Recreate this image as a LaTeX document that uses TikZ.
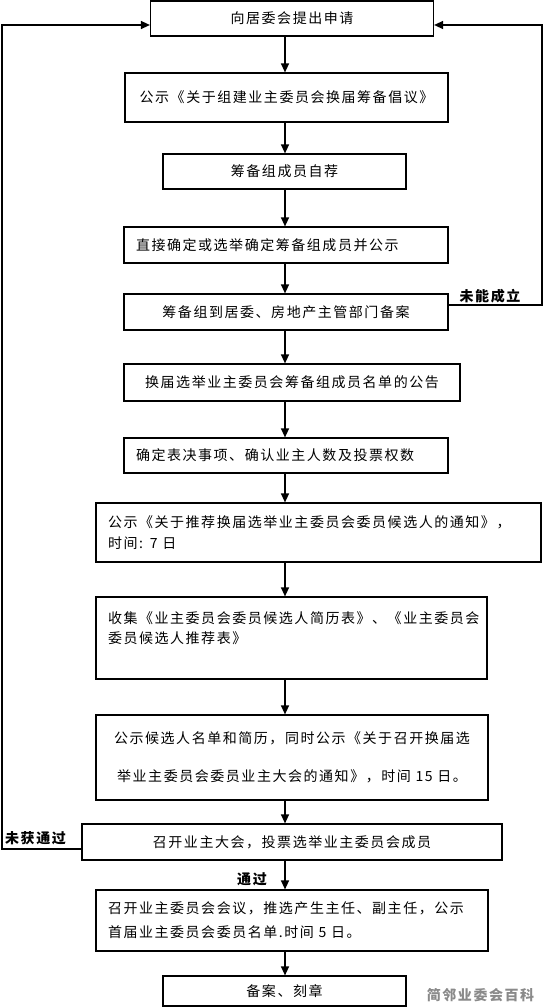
\documentclass[tikz,border=0pt]{standalone}
\usepackage{fontspec}
\usepackage{xcolor}
\usepackage{tikz}
\usetikzlibrary{arrows.meta,positioning,calc}
\newfontfamily\cjk[LetterSpace=11]{Noto Sans CJK SC}
\definecolor{MarkGray}{HTML}{8A8A8A}

\begin{document}
\begin{tikzpicture}[
    x=1pt, y=-1pt,
    font=\cjk\fontsize{14}{20}\selectfont,
    box/.style={rectangle, draw=black, line width=1.2pt, align=center, inner sep=0pt},
    lbox/.style={box, align=left, inner xsep=12pt},
    arrow/.style={-{Triangle[length=9pt,width=8pt]}, line width=1.3pt},
    lab/.style={font=\cjk\bfseries\fontsize{14}{16}\selectfont}
]
\useasboundingbox (0,0) rectangle (543,1008);

\node[box, minimum width=283pt, minimum height=35pt] (apply) at (292,18.5) {向居委会提出申请};
\node[box, minimum width=323pt, minimum height=49pt] (propose) at (286.5,97.5) {公示《关于组建业主委员会换届筹备倡议》};
\node[box, minimum width=243pt, minimum height=35pt] (selfrec) at (284.5,171.5) {筹备组成员自荐};
\node[lbox, text width=300pt, minimum height=36pt] (confirm) at (286,245) {直接确定或选举确定筹备组成员并公示};
\node[box, minimum width=324pt, minimum height=36pt] (record) at (286,312) {筹备组到居委、房地产主管部门备案};
\node[box, minimum width=336pt, minimum height=37pt] (listing) at (292,382.5) {换届选举业主委员会筹备组成员名单的公告};
\node[lbox, text width=300pt, minimum height=35pt] (matters) at (286,455.5) {确定表决事项、确认业主人数及投票权数};
\node[lbox, text width=421pt, minimum height=59pt] (notice) at (318.5,532.5) {公示《关于推荐换届选举业主委员会委员候选人的通知》，\\[1pt]时间: 7 日};
\node[lbox, text width=367pt, minimum height=82pt] (collect) at (291.5,638) {收集《业主委员会委员候选人简历表》、《业主委员会\\委员候选人推荐表》\\ \mbox{}};
\node[box, minimum width=392pt, minimum height=85pt] (publish) at (292,757.5) {公示候选人名单和简历，同时公示《关于召开换届选\\[18pt]举业主委员会委员业主大会的通知》，时间 15 日。};
\node[box, minimum width=420pt, minimum height=36pt] (assembly) at (292,842) {召开业主大会，投票选举业主委员会成员};
\node[lbox, text width=368pt, minimum height=61pt] (meeting) at (292,920.5) {召开业主委员会会议，推选产生主任、副主任，公示\\[4pt]首届业主委员会委员名单.时间 5 日。};
\node[box, minimum width=243pt, minimum height=30pt] (seal) at (284.5,991) {备案、刻章};

\coordinate (spine) at (285,0);
\coordinate (rside) at (542,0);
\coordinate (lside) at (2,0);

\draw[arrow] (apply.south -| spine) -- (propose.north -| spine);
\draw[arrow] (propose.south -| spine) -- (selfrec.north -| spine);
\draw[arrow] (selfrec.south -| spine) -- (confirm.north -| spine);
\draw[arrow] (confirm.south -| spine) -- (record.north -| spine);
\draw[arrow] (record.south -| spine) -- (listing.north -| spine);
\draw[arrow] (listing.south -| spine) -- (matters.north -| spine);
\draw[arrow] (matters.south -| spine) -- (notice.north -| spine);
\draw[arrow] (notice.south -| spine) -- (collect.north -| spine);
\draw[arrow] (collect.south -| spine) -- (publish.north -| spine);
\draw[arrow] (publish.south -| spine) -- (assembly.north -| spine);
\draw[arrow] (assembly.south -| spine) -- (meeting.north -| spine);
\draw[arrow] (meeting.south -| spine) -- (seal.north -| spine);

% loops back to the application
\draw[arrow] ([yshift=7pt]record.east) -- ([yshift=7pt]record.east -| rside) -- ([yshift=-6.5pt]apply.east -| rside) -- ([yshift=-6.5pt]apply.east);
\draw[arrow] ([yshift=-7pt]assembly.west) -- ([yshift=-7pt]assembly.west -| lside) -- ([yshift=-6.5pt]apply.west -| lside) -- ([yshift=-6.5pt]apply.west);

\node[lab] (failed) at (490,296) {未能成立};
\node[lab] (rejected) at (35.5,838) {未获通过};
\node[lab] (passed) at (252,879) {通过};
\node[lab, text=MarkGray] (mark) at (480.5,995) {简邻业委会百科};
\end{tikzpicture}
\end{document}
